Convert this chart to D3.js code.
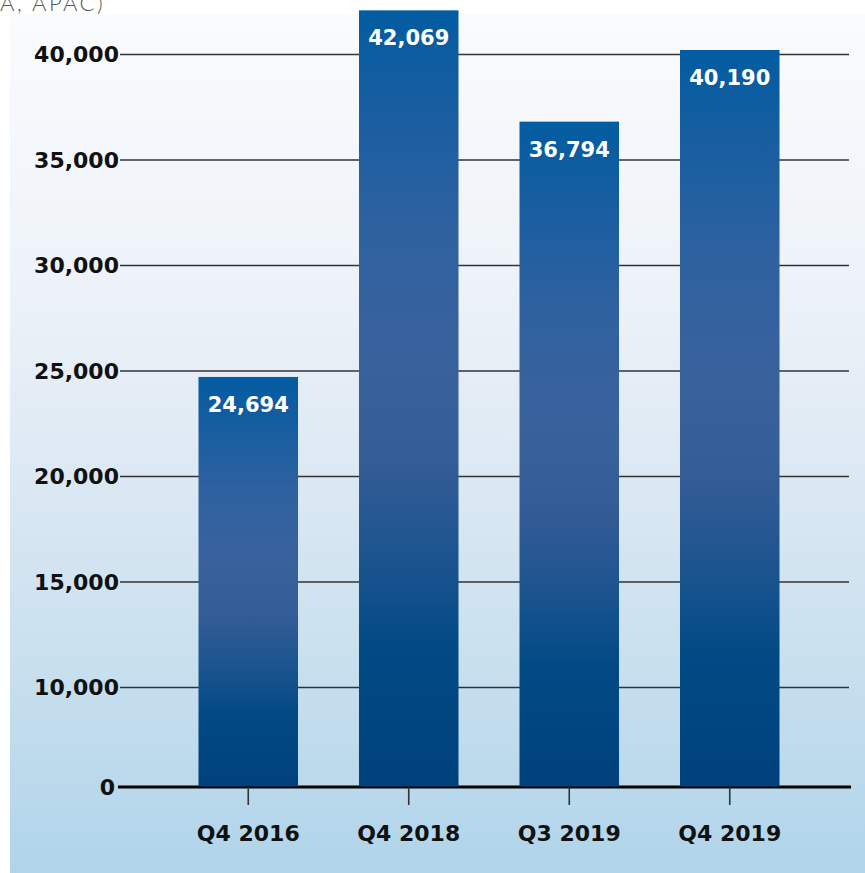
<!DOCTYPE html>
<html>
<head>
<meta charset="utf-8">
<script src="https://cdn.jsdelivr.net/npm/d3@7"></script>
<style>
  html, body { margin: 0; padding: 0; background: #fff; }
  svg { display: block; }
  .y-axis text, .x-axis text { font-family: "DejaVu Sans", sans-serif; font-weight: bold; font-size: 22px; fill: #111; }
  .bar-label { font-family: "DejaVu Sans", sans-serif; font-weight: bold; font-size: 21px; fill: #fff; }
</style>
</head>
<body>
<svg id="chart"></svg>
<script>
"use strict";

// ── Data ──
const quarters = ["Q4 2016", "Q4 2018", "Q3 2019", "Q4 2019"];
const counts   = [24694, 42069, 36794, 40190];
const yTicks   = [0, 10000, 15000, 20000, 25000, 30000, 35000, 40000];

const totalW = 865, totalH = 873;

const svg = d3.select("#chart")
  .attr("width", totalW)
  .attr("height", totalH);

const defs = svg.append("defs");

// background panel gradient (white-ish top -> light blue bottom)
const bg = defs.append("linearGradient")
  .attr("id", "bgGrad").attr("x1", 0).attr("y1", 0).attr("x2", 0).attr("y2", 1);
[[0, "#fafbfd"], [0.3, "#eef3f9"], [0.5, "#dfeaf4"], [0.75, "#c9e0ee"], [1, "#b0d4ea"]]
  .forEach(([o, c]) => bg.append("stop").attr("offset", o).attr("stop-color", c));

// bar gradient
const bar = defs.append("linearGradient")
  .attr("id", "barGrad").attr("x1", 0).attr("y1", 0).attr("x2", 0).attr("y2", 1);
[[0, "#035ca1"], [0.1, "#135da0"], [0.28, "#2f61a0"], [0.45, "#39629d"], [0.58, "#345c96"],
 [0.72, "#19538e"], [0.82, "#024a85"], [1, "#00417c"]]
  .forEach(([o, c]) => bar.append("stop").attr("offset", o).attr("stop-color", c));

svg.append("rect")
  .attr("x", 10).attr("y", 13)
  .attr("width", totalW - 10).attr("height", totalH - 13)
  .attr("fill", "url(#bgGrad)");

// cut-off subtitle remnant at top
svg.append("text")
  .attr("x", 0).attr("y", 11)
  .attr("font-family", "Lato, sans-serif")
  .attr("font-weight", 300)
  .attr("font-size", 22)
  .attr("letter-spacing", 2.5)
  .attr("fill", "#555")
  .text("A, APAC)");

// ── Scales ──
const x = d3.scaleBand()
  .domain(quarters)
  .range([168, 810])
  .paddingInner(0.38)
  .paddingOuter(0.19);

// broken axis: 0 sits closer to 10,000 than linear spacing would place it
const y = d3.scaleLinear()
  .domain([0, 10000, 40000])
  .range([787, 687, 54]);

const gridLeft = 120, gridRight = 849;

// ── Grid + y labels ──
const yAxis = svg.append("g")
  .attr("class", "y-axis")
  .attr("transform", `translate(${gridLeft},0)`)
  .call(d3.axisLeft(y)
    .tickValues(yTicks)
    .tickSize(-(gridRight - gridLeft))
    .tickPadding(1)
    .tickFormat(d3.format(",")));
yAxis.select(".domain").remove();
yAxis.selectAll(".tick line")
  .attr("stroke", "#333")
  .attr("stroke-width", 1.4);
yAxis.selectAll(".tick text").attr("dy", "0.36em");
yAxis.selectAll(".tick").filter(d => d === 0).select("line").remove();
yAxis.selectAll(".tick").filter(d => d === 0).select("text").attr("x", -5);

// baseline
svg.append("line")
  .attr("x1", 118).attr("x2", 851)
  .attr("y1", y(0)).attr("y2", y(0))
  .attr("stroke", "#000")
  .attr("stroke-width", 3);

// ── Bars ──
const rows = quarters.map((q, i) => ({ q, v: counts[i] }));

svg.append("g").selectAll("rect")
  .data(rows)
  .join("rect")
  .attr("x", d => x(d.q))
  .attr("y", d => y(d.v))
  .attr("width", x.bandwidth())
  .attr("height", d => y(0) - 0.5 - y(d.v))
  .attr("fill", "url(#barGrad)");

svg.append("g").selectAll("text")
  .data(rows)
  .join("text")
  .attr("class", "bar-label")
  .attr("x", d => x(d.q) + x.bandwidth() / 2)
  .attr("y", d => y(d.v) + 35)
  .attr("text-anchor", "middle")
  .text(d => d3.format(",")(d.v));

// ── X axis ──
const xAxis = svg.append("g")
  .attr("class", "x-axis")
  .attr("transform", `translate(0,${y(0)})`)
  .call(d3.axisBottom(x).tickSize(18).tickSizeOuter(0));
xAxis.select(".domain").remove();
xAxis.selectAll(".tick line").attr("stroke", "#333").attr("stroke-width", 1.6);
xAxis.selectAll(".tick text").attr("y", 54).attr("dy", 0);
</script>
</body>
</html>
